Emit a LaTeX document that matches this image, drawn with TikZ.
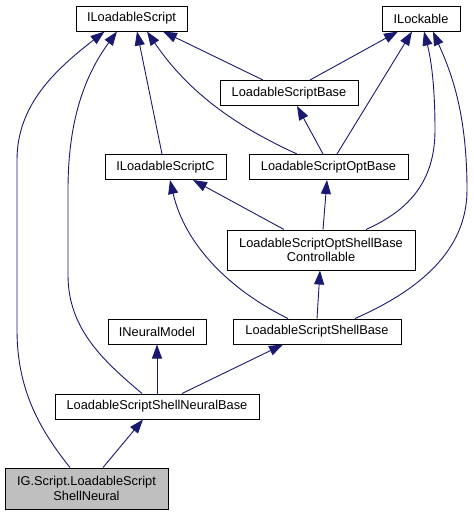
\documentclass[tikz,border=0pt]{standalone}
\usepackage{fontspec}
\setmainfont{Liberation Sans}
\usetikzlibrary{arrows.meta}
\definecolor{edgeblue}{HTML}{191970}
\definecolor{curgray}{HTML}{BFBFBF}
\tikzset{
  cls/.style = {draw = black, fill = white, line width = 1pt, inner sep = 0pt,
    minimum height = 25pt, align = center, font = \fontsize{12.8}{14.5}\selectfont},
  inh/.style = {color = edgeblue, line width = 0.9pt, -{Triangle[length = 14pt, width = 10pt]}},
}

\begin{document}
\begin{tikzpicture}[x = 1pt, y = -1pt]
        \useasboundingbox (0,0) rectangle (474,515);
        % classes
        \node[cls, minimum width = 111pt] (ils) at (131.5,18.5) {ILoadableScript};
        \node[cls, minimum width = 78pt] (ilock) at (421,18.5) {ILockable};
        \node[cls, minimum width = 138pt] (lsb) at (289,93) {LoadableScriptBase};
        \node[cls, minimum width = 121pt] (ilsc) at (165.5,167) {ILoadableScriptC};
        \node[cls, minimum width = 159pt] (lsob) at (328.5,167) {LoadableScriptOptBase};
        \node[cls, minimum width = 188pt, minimum height = 40pt] (lsosbc) at (321,250) {LoadableScriptOptShellBase\\Controllable};
        \node[cls, minimum width = 98pt] (inm) at (157,331.5) {INeuralModel};
        \node[cls, minimum width = 168pt] (lssb) at (317,331.5) {LoadableScriptShellBase};
        \node[cls, minimum width = 204pt] (lssnb) at (157,406.5) {LoadableScriptShellNeuralBase};
        \node[cls, fill = curgray, minimum width = 163pt, minimum height = 41pt] (ig) at (86.5,488.5) {IG.Script.LoadableScript\\ShellNeural};
        % inheritance
        \draw[inh] ([xshift = -16.5pt]ig.north) .. controls (40,430) and (17,390) .. (17,330) -- (17,160)
          .. controls (17,105) and (55,70) .. ([xshift = -27pt]ils.south);
        \draw[inh] ([xshift = 16.5pt]ig.north) -- ([xshift = -14pt]lssnb.south);
        \draw[inh] ([xshift = -15pt]lssnb.north) .. controls (105,362) and (68,330) .. (68,275) -- (68,190)
          .. controls (68,120) and (85,75) .. ([xshift = -14.5pt]ils.south);
        \draw[inh] (lssnb.north) -- (inm.south);
        \draw[inh] ([xshift = 25pt]lssnb.north) -- ([xshift = -34pt]lssb.south);
        \draw[inh] ([xshift = -29pt]lssb.north) .. controls (230,290) and (185,245) .. ([xshift = 4.5pt]ilsc.south);
        \draw[inh] (lssb.north) -- ([xshift = -1pt]lsosbc.south);
        \draw[inh] ([xshift = 38pt]lssb.north) .. controls (420,290) and (467,250) .. (467,190)
          .. controls (467,110) and (450,70) .. ([xshift = 12pt]ilock.south);
        \draw[inh] ([xshift = -37pt]lsosbc.north) -- ([xshift = 27.5pt]ilsc.south);
        \draw[inh] ([xshift = 2pt]lsosbc.north) -- ([xshift = -1.5pt]lsob.south);
        \draw[inh] ([xshift = 45pt]lsosbc.north) .. controls (405,212) and (435,185) .. (435,130)
          .. controls (435,80) and (430,55) .. ([xshift = 3pt]ilock.south);
        \draw[inh] ([xshift = -31.5pt]lsob.north) .. controls (240,128) and (190,95) .. ([xshift = 15.5pt]ils.south);
        \draw[inh] ([xshift = -5.5pt]lsob.north) -- ([xshift = 8pt]lsb.south);
        \draw[inh] ([xshift = 8.5pt]lsob.north) -- ([xshift = -9pt]ilock.south);
        \draw[inh] ([xshift = -3.5pt]ilsc.north) -- ([xshift = 5.5pt]ils.south);
        \draw[inh] ([xshift = -26pt]lsb.north) -- ([xshift = 31.5pt]ils.south);
        \draw[inh] ([xshift = 21pt]lsb.north) -- ([xshift = -23pt]ilock.south);
      \end{tikzpicture}
\end{document}
